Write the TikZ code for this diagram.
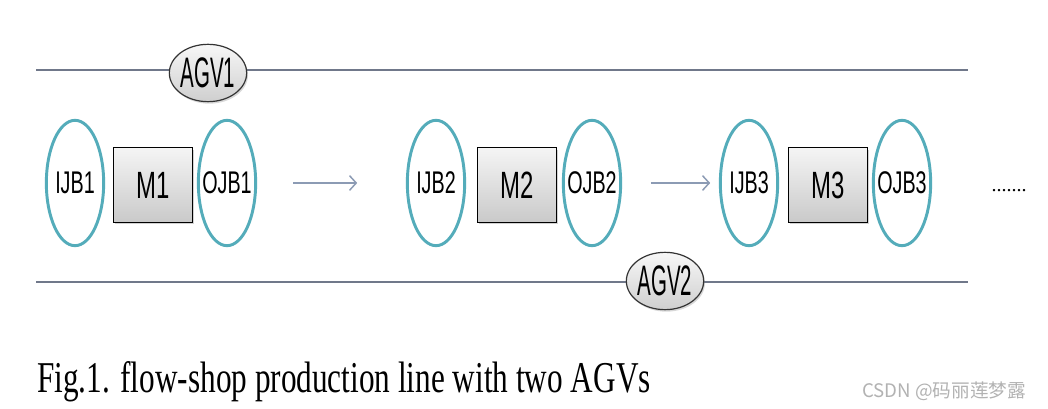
\documentclass[tikz,border=0pt]{standalone}
\usepackage{fontspec}
\setmainfont{Liberation Serif}
\newfontfamily\capfont[FakeStretch=0.71]{Liberation Serif}
\newfontfamily\boxfont[FakeStretch=0.63]{Liberation Sans}
\newfontfamily\agvfont[FakeStretch=0.48]{Liberation Sans}
\newfontfamily\cjk{Noto Sans CJK SC}
\usetikzlibrary{positioning, arrows.meta, shapes.geometric, shadows}

\definecolor{bufteal}{RGB}{84,172,186}
\definecolor{trackgray}{RGB}{112,120,138}
\definecolor{flowblue}{RGB}{140,155,180}

\begin{document}
\begin{tikzpicture}[x=0.75pt,y=-0.75pt,
  buffer/.style={ellipse,draw=bufteal,line width=2.2pt,inner sep=0pt,inner xsep=-5pt,
    minimum width=43pt,minimum height=94pt,
    font=\boxfont\fontsize{23.5}{24}\selectfont},
  machine/.style={rectangle,draw=black,line width=0.9pt,
    top color=gray!8,bottom color=gray!42,
    minimum width=59pt,minimum height=56pt,
    drop shadow={shadow xshift=1.2pt,shadow yshift=-1.5pt,opacity=0.35},
    font=\boxfont\fontsize{28.5}{29}\selectfont},
  agv/.style={ellipse,draw=black!80,line width=0.9pt,inner sep=0pt,inner xsep=-4pt,
    top color=gray!6,bottom color=gray!38,
    minimum width=58pt,minimum height=43pt,
    drop shadow={shadow xshift=1pt,shadow yshift=-1.5pt,opacity=0.3},
    font=\agvfont\fontsize{32}{32}\selectfont},
  track/.style={draw=trackgray,line width=1.3pt},
  flow/.style={draw=flowblue,line width=1.1pt,-{Straight Barb[length=5pt,width=11pt]}}]
  \useasboundingbox[fill=white] (0,0) rectangle (1048,409);

  % AGV tracks
  \coordinate (tl) at (36,70);
  \coordinate (tr) at (968,70);
  \coordinate (bl) at (36,282);
  \coordinate (br) at (968,282);
  \draw[track] (tl) -- (tr);
  \draw[track] (bl) -- (br);
  \node[agv] (agv1) at (208,73) {AGV1};
  \node[agv] (agv2) at (665,281) {AGV2};

  % stations
  \node[buffer] (ijb1) at (75,183) {IJB1};
  \node[machine] (m1) at (153,185) {M1};
  \node[buffer] (ojb1) at (227,183) {OJB1};
  \node[buffer] (ijb2) at (436,183) {IJB2};
  \node[machine] (m2) at (517,185) {M2};
  \node[buffer] (ojb2) at (592,183) {OJB2};
  \node[buffer] (ijb3) at (749,183) {IJB3};
  \node[machine] (m3) at (828,185) {M3};
  \node[buffer] (ojb3) at (902,183) {OJB3};
  \node[anchor=base,inner sep=0pt,font=\fontsize{15}{16}\selectfont] (more) at (1009,192) {.......};

  \draw[flow,shorten <=27pt,shorten >=36.5pt] (ojb1) -- (ijb2);
  \draw[flow,shorten <=21.5pt,shorten >=6.5pt] (ojb2) -- (ijb3);

  \node[anchor=base west,inner sep=0pt,font=\capfont\fontsize{33}{36}\selectfont] (caption) at (37,392)
    {Fig.1. flow-shop production line with two AGVs};
  \node[anchor=base west,inner sep=0pt,text=gray!60,font=\cjk\fontsize{14}{15}\selectfont] (mark) at (862,397)
    {CSDN @码丽莲梦露};
\end{tikzpicture}
\end{document}
